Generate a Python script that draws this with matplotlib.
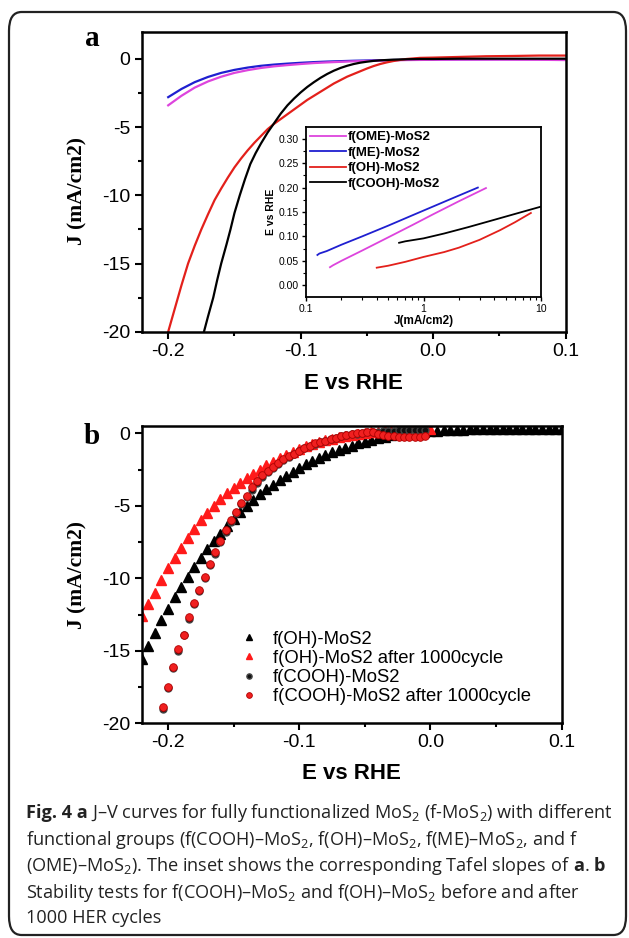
import matplotlib
matplotlib.use("Agg")
import matplotlib.pyplot as plt
from matplotlib.patches import FancyBboxPatch
from matplotlib.ticker import MultipleLocator

# ---- panel a: J-V curves ----
E_me = [-0.20, -0.19, -0.18, -0.17, -0.16, -0.15, -0.14, -0.13, -0.12, -0.11, -0.10,
        -0.09, -0.08, -0.06, -0.04, -0.02, 0.0, 0.02, 0.05, 0.08, 0.10]
J_me = [-2.8, -2.2, -1.7, -1.32, -1.02, -0.8, -0.63, -0.5, -0.41, -0.34, -0.28,
        -0.23, -0.19, -0.13, -0.09, -0.06, -0.04, -0.03, -0.02, -0.02, -0.02]
J_ome = [-3.4, -2.7, -2.1, -1.65, -1.3, -1.02, -0.82, -0.66, -0.54, -0.45, -0.37,
         -0.3, -0.25, -0.17, -0.12, -0.08, -0.06, -0.05, -0.05, -0.06, -0.08]

E_cooh = [-0.173, -0.170, -0.166, -0.163, -0.160, -0.156, -0.153, -0.150, -0.146, -0.142,
          -0.138, -0.134, -0.130, -0.125, -0.120, -0.115, -0.110, -0.105, -0.100, -0.095,
          -0.090, -0.085, -0.080, -0.075, -0.070, -0.065, -0.060, -0.055, -0.050, -0.045,
          -0.040, -0.030, -0.020, -0.010, 0.0, 0.02, 0.05, 0.08, 0.10]
J_cooh = [-20.0, -18.9, -17.5, -16.2, -15.0, -13.6, -12.5, -11.3, -10.0, -8.8,
          -7.7, -6.9, -6.2, -5.4, -4.7, -4.0, -3.4, -2.9, -2.45, -2.05,
          -1.7, -1.38, -1.1, -0.86, -0.66, -0.5, -0.37, -0.27, -0.2, -0.14,
          -0.1, -0.05, -0.02, 0.0, 0.0, 0.02, 0.02, 0.02, 0.02]

E_oh = [-0.200, -0.195, -0.190, -0.185, -0.180, -0.175, -0.170, -0.165, -0.160, -0.155,
        -0.150, -0.145, -0.140, -0.135, -0.130, -0.125, -0.120, -0.115, -0.110, -0.105,
        -0.100, -0.095, -0.090, -0.085, -0.080, -0.075, -0.070, -0.065, -0.060, -0.055,
        -0.050, -0.045, -0.040, -0.035, -0.030, -0.025, -0.020, -0.010, 0.0, 0.02,
        0.04, 0.06, 0.08, 0.10]
J_oh = [-20.0, -18.3, -16.6, -15.0, -13.7, -12.5, -11.4, -10.35, -9.5, -8.7,
        -7.95, -7.3, -6.7, -6.15, -5.65, -5.15, -4.75, -4.4, -4.05, -3.7,
        -3.35, -3.0, -2.7, -2.4, -2.1, -1.8, -1.55, -1.3, -1.1, -0.9,
        -0.7, -0.52, -0.37, -0.25, -0.15, -0.07, 0.0, 0.08, 0.1, 0.15,
        0.2, 0.22, 0.25, 0.25]

# ---- inset: Tafel plots ----
tj_me = [0.125, 0.13, 0.15, 0.2, 0.3, 0.5, 0.8, 1.2, 1.8, 2.9]
te_me = [0.062, 0.065, 0.07, 0.083, 0.1, 0.122, 0.143, 0.161, 0.179, 0.2]
tj_ome = [0.16, 0.17, 0.2, 0.3, 0.5, 0.8, 1.2, 2.0, 3.4]
te_ome = [0.037, 0.041, 0.05, 0.071, 0.098, 0.123, 0.145, 0.172, 0.199]
tj_cooh = [0.62, 0.7, 1.0, 1.5, 2.4, 4.0, 6.0, 10.0]
te_cooh = [0.087, 0.09, 0.096, 0.106, 0.119, 0.134, 0.146, 0.161]
tj_oh = [0.40, 0.5, 0.7, 1.0, 1.5, 2.0, 3.0, 4.5, 6.0, 8.2]
te_oh = [0.036, 0.04, 0.048, 0.058, 0.068, 0.077, 0.093, 0.113, 0.129, 0.148]

# ---- panel b: stability ----
E_tri = [-0.220, -0.215, -0.210, -0.205, -0.200, -0.195, -0.190, -0.185, -0.180, -0.175,
         -0.170, -0.165, -0.160, -0.155, -0.150, -0.145, -0.140, -0.135, -0.130, -0.125,
         -0.120, -0.115, -0.110, -0.105, -0.100, -0.095, -0.090, -0.085, -0.080, -0.075,
         -0.070, -0.065, -0.060, -0.055, -0.050, -0.045, -0.040, -0.035, -0.030, -0.025,
         -0.020, -0.015, -0.010, -0.005, 0.000, 0.005, 0.010, 0.015, 0.020, 0.025,
         0.030, 0.035, 0.040, 0.045, 0.050, 0.055, 0.060, 0.065, 0.070, 0.075,
         0.080, 0.085, 0.090, 0.095, 0.100]
J_oh_before = [-15.6, -14.7, -13.8, -12.9, -12.1, -11.3, -10.6, -9.9, -9.2, -8.6,
               -8.0, -7.45, -6.95, -6.4, -5.9, -5.45, -5.0, -4.6, -4.2, -3.85,
               -3.55, -3.25, -2.95, -2.65, -2.4, -2.15, -1.9, -1.7, -1.5, -1.3,
               -1.15, -1.0, -0.85, -0.7, -0.57, -0.45, -0.35, -0.25, -0.15, -0.07,
               0.0, 0.05, 0.1, 0.12, 0.15, 0.18, 0.2, 0.22, 0.24, 0.25,
               0.26, 0.27, 0.28, 0.28, 0.29, 0.29, 0.3, 0.3, 0.3, 0.3,
               0.3, 0.3, 0.3, 0.3, 0.3]
E_tri_after = [-0.220, -0.215, -0.210, -0.205, -0.200, -0.195, -0.190, -0.185, -0.180, -0.175,
               -0.170, -0.165, -0.160, -0.155, -0.150, -0.145, -0.140, -0.135, -0.130, -0.125,
               -0.120, -0.115, -0.110, -0.105, -0.100, -0.095, -0.090, -0.085, -0.080, -0.075,
               -0.070, -0.065, -0.060, -0.055, -0.050, -0.045, -0.040, -0.035, -0.030, -0.025,
               -0.020, -0.015, -0.010, -0.005, 0.000]
J_oh_after = [-12.6, -11.8, -11.0, -10.1, -9.3, -8.6, -7.9, -7.2, -6.6, -6.0,
              -5.5, -5.0, -4.55, -4.15, -3.75, -3.4, -3.1, -2.8, -2.5, -2.2,
              -1.95, -1.7, -1.5, -1.3, -1.1, -0.9, -0.75, -0.6, -0.48, -0.37,
              -0.27, -0.18, -0.1, -0.03, 0.03, 0.08, 0.12, 0.15, 0.18, 0.2,
              0.22, 0.24, 0.25, 0.27, 0.28]

E_circ = [-0.204, -0.200, -0.196, -0.192, -0.188, -0.184, -0.180, -0.176, -0.172, -0.168,
          -0.164, -0.160, -0.156, -0.152, -0.148, -0.144, -0.140, -0.136, -0.132, -0.128,
          -0.124, -0.120, -0.116, -0.112, -0.108, -0.104, -0.100, -0.096, -0.092, -0.088,
          -0.084, -0.080, -0.076, -0.072, -0.068, -0.064, -0.060, -0.056, -0.052, -0.048,
          -0.044, -0.040, -0.036, -0.032, -0.028, -0.024, -0.020, -0.016, -0.012, -0.008,
          -0.004]
J_cooh_before = [-19.0, -17.6, -16.2, -15.0, -13.9, -12.8, -11.8, -10.9, -10.0, -9.1,
                 -8.3, -7.5, -6.8, -6.1, -5.5, -4.9, -4.4, -3.9, -3.45, -3.05,
                 -2.7, -2.4, -2.1, -1.85, -1.65, -1.45, -1.25, -1.05, -0.9, -0.75,
                 -0.62, -0.5, -0.4, -0.3, -0.22, -0.15, -0.08, -0.02, 0.03, 0.07,
                 0.1, 0.12, 0.14, 0.16, 0.18, 0.2, 0.21, 0.22, 0.23, 0.24,
                 0.25]
J_cooh_after = [-18.9, -17.5, -16.1, -14.9, -13.9, -12.7, -11.7, -10.8, -9.9, -9.0,
                -8.2, -7.4, -6.7, -6.0, -5.4, -4.8, -4.3, -3.7, -3.3, -2.9,
                -2.6, -2.3, -2.05, -1.8, -1.6, -1.4, -1.2, -1.0, -0.85, -0.7,
                -0.6, -0.5, -0.4, -0.3, -0.2, -0.12, -0.05, 0.0, 0.05, 0.08,
                0.1, -0.05, -0.15, -0.2, -0.22, -0.23, -0.24, -0.25, -0.25, -0.25,
                -0.22]

plt.rcParams['font.family'] = ['Liberation Sans', 'DejaVu Sans']
plt.rcParams['axes.unicode_minus'] = False
plt.rcParams['mathtext.fontset'] = 'custom'
plt.rcParams['mathtext.rm'] = 'Open Sans'
plt.rcParams['mathtext.bf'] = 'Open Sans:bold'

W, H = 629, 938
fig = plt.figure(figsize=(W / 100, H / 100), dpi=100)

# rounded frame around the figure
frame = FancyBboxPatch((9 / W, 3 / H), 617 / W, (H - 15) / H,
                       boxstyle="round,pad=0,rounding_size=0.02",
                       transform=fig.transFigure, fill=False,
                       edgecolor='#222222', linewidth=1.6)
fig.patches.append(frame)


def style_main(ax):
    ax.set_xlim(-0.22, 0.1)
    ax.xaxis.set_major_locator(MultipleLocator(0.1))
    ax.xaxis.set_minor_locator(MultipleLocator(0.05))
    ax.yaxis.set_major_locator(MultipleLocator(5))
    ax.yaxis.set_minor_locator(MultipleLocator(2.5))
    ax.xaxis.set_major_formatter(plt.FuncFormatter(lambda v, p: f"{v:.1f}".replace("-0.0", "0.0")))
    ax.tick_params(which='major', direction='out', length=5, width=1.5, labelsize=14, pad=3)
    ax.tick_params(which='minor', direction='out', length=3, width=1.5)
    for s in ax.spines.values():
        s.set_linewidth(1.8)
    ax.set_xlabel('E vs RHE', fontsize=16, fontweight='bold')
    ax.set_ylabel('J (mA/cm2)', fontsize=15.5, fontweight='bold', family='Liberation Serif')


# panel a
ax1 = fig.add_axes([141.7 / W, 1 - 331.7 / H, 424 / W, 300 / H])
ax1.plot(E_me, J_me, color='#1f1fd0', lw=1.6)
ax1.plot(E_me, J_ome, color='#dd44dd', lw=1.6)
ax1.plot(E_oh, J_oh, color='#e3201b', lw=1.6)
ax1.plot(E_cooh, J_cooh, color='black', lw=1.6)
ax1.set_ylim(-20, 2)
style_main(ax1)
ax1.xaxis.set_label_coords(0.5, -41 / 300)
ax1.yaxis.set_label_coords(-54 / 424, 0.47)
fig.text(92 / W, 1 - 38 / H, 'a', fontsize=21, fontweight='bold', family='Liberation Serif',
         ha='center', va='center')

# inset
axi = fig.add_axes([306 / W, 1 - 297 / H, 235 / W, 170 / H])
axi.semilogx(tj_ome, te_ome, color='#dd44dd', lw=1.3, label='f(OME)-MoS2')
axi.semilogx(tj_me, te_me, color='#1f1fd0', lw=1.3, label='f(ME)-MoS2')
axi.semilogx(tj_oh, te_oh, color='#e3201b', lw=1.3, label='f(OH)-MoS2')
axi.semilogx(tj_cooh, te_cooh, color='black', lw=1.3, label='f(COOH)-MoS2')
axi.set_xlim(0.1, 10)
axi.set_ylim(-0.024, 0.324)
axi.set_xticks([0.1, 1, 10])
axi.set_xticklabels(['0.1', '1', '10'])
axi.yaxis.set_major_locator(MultipleLocator(0.05))
axi.yaxis.set_minor_locator(MultipleLocator(0.025))
axi.yaxis.set_major_formatter(plt.FuncFormatter(lambda v, p: f"{v:.2f}"))
axi.tick_params(which='major', direction='out', length=3, width=1, labelsize=7.5, pad=2)
axi.tick_params(which='minor', direction='out', length=2, width=0.8)
for s in axi.spines.values():
    s.set_linewidth(1.3)
axi.set_xlabel('J(mA/cm2)', fontsize=8.5, fontweight='bold', labelpad=1)
axi.set_ylabel('E vs RHE', fontsize=7.5, fontweight='bold', labelpad=2)
axi.legend(loc='upper left', frameon=False, prop={'size': 9.5, 'weight': 'bold'},
           handlelength=2.7, handletextpad=0.2, labelspacing=0.25,
           borderaxespad=0.1, borderpad=0.2)

# panel b
ax2 = fig.add_axes([141.7 / W, 1 - 723.3 / H, 420 / W, 297.3 / H])
ax2.plot(E_tri, J_oh_before, linestyle='none', marker='^', ms=6.5, color='black',
         label='f(OH)-MoS2')
ax2.plot(E_tri_after, J_oh_after, linestyle='none', marker='^', ms=6.5, color='#ff1a1a',
         label='f(OH)-MoS2 after 1000cycle')
ax2.plot(E_circ, J_cooh_before, linestyle='none', marker='o', ms=5, color='#111111',
         markeredgecolor='#444444', label='f(COOH)-MoS2')
ax2.plot(E_circ, J_cooh_after, linestyle='none', marker='o', ms=5.5, color='#f02020',
         markeredgecolor='#b00000', markeredgewidth=0.6, label='f(COOH)-MoS2 after 1000cycle')
ax2.set_ylim(-20, 0.5)
style_main(ax2)
ax2.xaxis.set_label_coords(0.5, -40 / 297.3)
ax2.yaxis.set_label_coords(-54 / 420, 0.5)
ax2.legend(loc='upper left', bbox_to_anchor=(222 / W, 1 - 614 / H),
           bbox_transform=fig.transFigure, frameon=False, fontsize=13.3,
           handlelength=1.1, handletextpad=0.75, labelspacing=0.12, markerscale=0.75)
fig.text(92 / W, 1 - 436 / H, 'b', fontsize=21, fontweight='bold', family='Liberation Serif',
         ha='center', va='center')

# caption: each line is a list of (text, bold) pieces placed one after another
cap_lines = [
    [("Fig. 4 a", True), (" J–V curves for fully functionalized MoS$_2$ (f-MoS$_2$) with different", False)],
    [("functional groups (f(COOH)–MoS$_2$, f(OH)–MoS$_2$, f(ME)–MoS$_2$, and f", False)],
    [("(OME)–MoS$_2$). The inset shows the corresponding Tafel slopes of ", False), ("a", True),
     (". ", False), ("b", True)],
    [("Stability tests for f(COOH)–MoS$_2$ and f(OH)–MoS$_2$ before and after", False)],
    [("1000 HER cycles", False)],
]
cap_y = [813, 840, 866, 893, 918]
renderer = fig.canvas.get_renderer()
space_px = 3.6
for pieces, y in zip(cap_lines, cap_y):
    x = 26
    for txt, bold in pieces:
        lead = txt.startswith(" ")
        trail = txt.endswith(" ")
        if lead:
            x += space_px
        t = fig.text(x / W, 1 - y / H, txt.strip(), fontsize=13.1, family='Open Sans',
                     fontweight='bold' if bold else 'normal',
                     ha='left', va='center', color='#222222')
        bb = t.get_window_extent(renderer)
        x += bb.width
        if trail:
            x += space_px

fig.savefig('out.png', dpi=100)
